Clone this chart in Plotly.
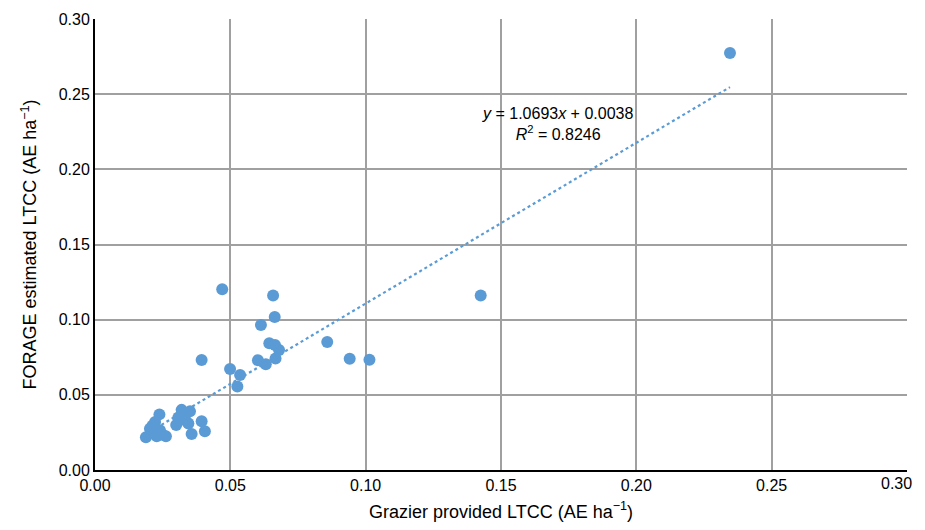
import plotly.graph_objects as go
import numpy as np

grazier_ltcc = [
    0.0188, 0.0203, 0.0212, 0.0222, 0.0238, 0.0228, 0.0240, 0.0250, 0.0262, 0.0215,
    0.0300, 0.0308, 0.0320, 0.0335, 0.0345, 0.0351, 0.0357, 0.0394, 0.0406, 0.0330,
    0.0394, 0.0470, 0.0499, 0.0536, 0.0526, 0.0602, 0.0613, 0.0631, 0.0644, 0.0658,
    0.0664, 0.0665, 0.0667, 0.0680, 0.0858, 0.0941, 0.1014, 0.1425, 0.2346,
]
forage_ltcc = [
    0.0218, 0.0275, 0.0295, 0.0320, 0.0370, 0.0225, 0.0265, 0.0235, 0.0225, 0.0245,
    0.0300, 0.0350, 0.0400, 0.0330, 0.0310, 0.0390, 0.0240, 0.0325, 0.0258, 0.0370,
    0.0732, 0.1202, 0.0672, 0.0632, 0.0556, 0.0730, 0.0965, 0.0703, 0.0843, 0.1160,
    0.1018, 0.0832, 0.0741, 0.0798, 0.0851, 0.0740, 0.0733, 0.1160, 0.2774,
]
slope = 1.0693
intercept = 0.0038
r_squared = 0.8246

axis_ticks = [0.00, 0.05, 0.10, 0.15, 0.20, 0.25, 0.30]
x_tick_text = ["0.00", "0.05", "0.10", "0.15", "0.20", "0.25", ""]
last_x_label = "0.30"

blue = "#5B9BD5"
font_family = "Liberation Sans, Arial, sans-serif"

trend_x = np.array([min(grazier_ltcc), max(grazier_ltcc)])
trend_y = slope * trend_x + intercept

fig = go.Figure()
fig.add_trace(go.Scatter(
    x=trend_x, y=trend_y, mode="lines",
    line=dict(color=blue, width=2.2, dash="dot"),
    hoverinfo="skip", showlegend=False,
))
fig.add_trace(go.Scatter(
    x=grazier_ltcc, y=forage_ltcc, mode="markers",
    marker=dict(color=blue, size=12, line=dict(width=0)),
    showlegend=False,
))

fig.add_annotation(
    x=0.171, y=0.230, xref="x", yref="y",
    text="<i>y</i> = 1.0693<i>x</i> + 0.0038<br><i>R</i><sup>2</sup> = 0.8246",
    showarrow=False, align="center",
    font=dict(family=font_family, size=16, color="#000"),
)
# last x tick label, kept inside the visible page
fig.add_annotation(
    x=axis_ticks[-1], y=0, xref="x", yref="paper",
    text=last_x_label, showarrow=False,
    xanchor="right", yanchor="top", xshift=7, yshift=-3,
    font=dict(family=font_family, size=16, color="#000"),
)

axis_common = dict(
    range=[0, 0.30], tickvals=axis_ticks, tickformat=".2f",
    showgrid=True, gridcolor="#a0a0a0", gridwidth=2,
    showline=True, linecolor="#000", linewidth=2,
    zeroline=False, ticks="", automargin=False,
    ticklabeloverflow="allow",
    tickfont=dict(family=font_family, size=16, color="#000"),
    fixedrange=True,
)

fig.update_xaxes(
    title=dict(text="Grazier provided LTCC (AE ha<sup>−1</sup>)",
               font=dict(family=font_family, size=18, color="#000"), standoff=16),
    ticktext=x_tick_text,
    **axis_common,
)
fig.update_yaxes(
    title=dict(text="FORAGE estimated LTCC (AE ha<sup>−1</sup>)",
               font=dict(family=font_family, size=18, color="#000"), standoff=17),
    **axis_common,
)

fig.update_layout(
    width=917, height=514,
    margin=dict(l=87, r=18, t=11, b=52),
    plot_bgcolor="white", paper_bgcolor="white",
    font=dict(family=font_family, color="#000"),
)

fig.write_html("out.html")
